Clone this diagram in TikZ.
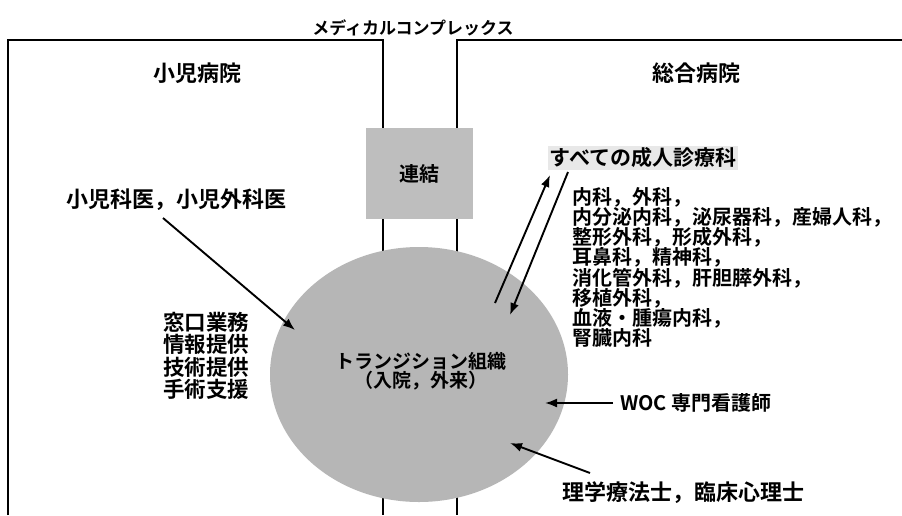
\documentclass[tikz,border=0pt]{standalone}
\usepackage{fontspec}
\setmainfont{Noto Sans CJK JP}[BoldFont={* Bold}]
\usetikzlibrary{arrows.meta,shapes.geometric}
\definecolor{ellgray}{RGB}{182,182,182}
\definecolor{boxgray}{RGB}{190,190,190}
\definecolor{halo}{RGB}{232,232,232}
\begin{document}
\begin{tikzpicture}[x=1pt,y=-1pt,
  wall/.style={line width=1.9pt, black},
  arr/.style={line width=1.9pt, -{Latex[length=12pt,width=9pt]}},
  lbl/.style={inner sep=0pt, font=\fontsize{#1}{#1}\selectfont\bfseries},
  lbl/.default=21,
]
\useasboundingbox (0,0) rectangle (902,515);
\fill[white] (0,0) rectangle (902,515);
% walls of the two hospitals
\draw[wall] (8,515) -- (8,40) -- (383,40) -- (383,515);
\draw[wall] (902,40) -- (457,40) -- (457,515);
% title
\node[lbl=17] (title) at (413,28) {メディカルコンプレックス};
\node[lbl=22] (ped) at (197,73) {小児病院};
\node[lbl=22] (gen) at (696,73) {総合病院};
% link box
\node[fill=boxgray, minimum width=107pt, minimum height=91pt, inner sep=0pt,
      font=\fontsize{20}{20}\selectfont\bfseries] (link) at (419.5,173.5) {連結};
% transition ellipse
\node[ellipse, fill=ellgray, minimum width=298pt, minimum height=255pt, inner sep=0pt] (trans) at (419,374.5) {};
\node[inner sep=0pt, align=center, font=\fontsize{19}{19}\selectfont\bfseries] (translbl) at (421,371) {トランジション組織\\（入院，外来）};
% left texts
\node[lbl=22] (doc) at (176.5,200) {小児科医，小児外科医};
\node[inner sep=0pt, anchor=north west, align=left, font=\fontsize{21.5}{22.4}\selectfont\bfseries] (tasks) at (163,312) {窓口業務\\情報提供\\技術提供\\手術支援};
% right texts
\node[lbl=21, fill=halo, inner sep=2pt] (adult) at (643,158) {すべての成人診療科};
\node[inner sep=0pt, anchor=north west, align=left, font=\fontsize{20}{20.2}\selectfont\bfseries] (depts) at (572,187) {内科，外科，\\内分泌内科，泌尿器科，産婦人科，\\整形外科，形成外科，\\耳鼻科，精神科，\\消化管外科，肝胆膵外科，\\移植外科，\\血液・腫瘍内科，\\腎臓内科};
\node[lbl=20, anchor=west] (woc) at (620,403) {WOC 専門看護師};
\node[lbl=22, anchor=west] (pt) at (562,493) {理学療法士，臨床心理士};
% arrow end points
\coordinate (docS) at (163,218);
\coordinate (docE) at (295,330);
\coordinate (upS) at (495,303);
\coordinate (upE) at (550,175);
\coordinate (dnS) at (568,172);
\coordinate (dnE) at (510,315);
\coordinate (wocS) at (613,403);
\coordinate (wocE) at (545,403);
\coordinate (ptS) at (590,473);
\coordinate (ptE) at (510,443);
\draw[arr] (docS) -- (docE);
\draw[arr] (upS) -- (upE);
\draw[arr] (dnS) -- (dnE);
\draw[arr] (wocS) -- (wocE);
\draw[arr] (ptS) -- (ptE);
\end{tikzpicture}
\end{document}
